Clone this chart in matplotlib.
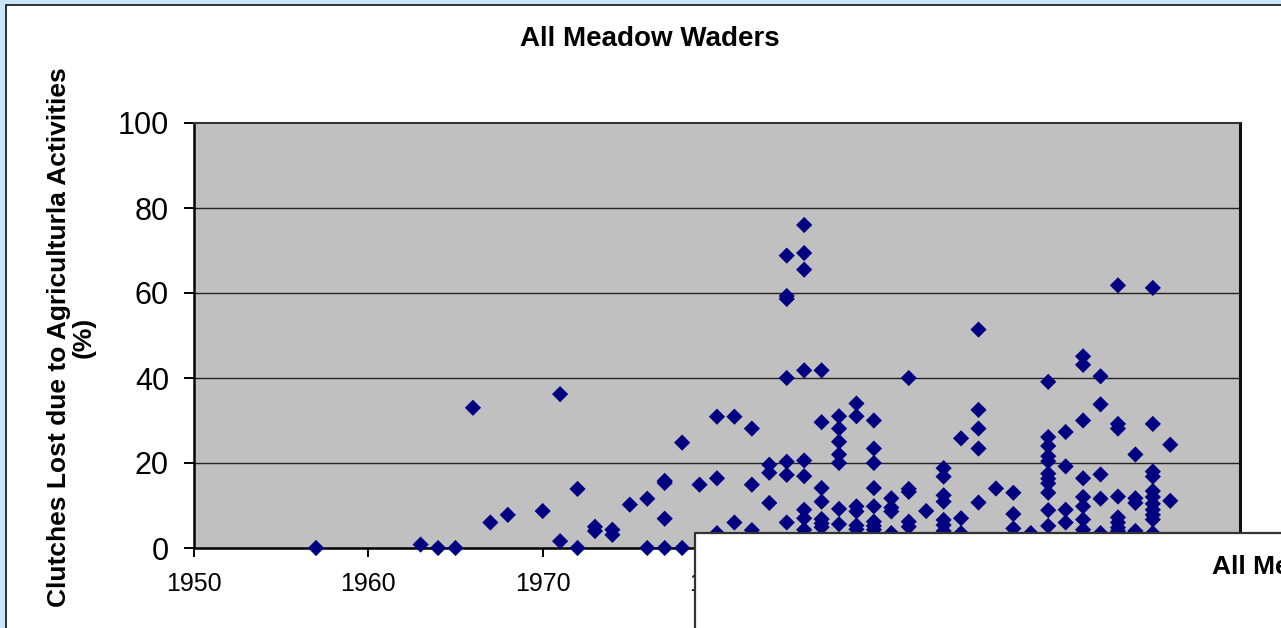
import matplotlib

matplotlib.use("Agg")
import matplotlib.pyplot as plt  # noqa: E402
from matplotlib.patches import Rectangle  # noqa: E402

# -------------------------------
# Data (% clutches lost per survey year)
# -------------------------------
survey_years = [
    1957, 1963, 1964, 1965, 1966, 1967, 1968, 1970, 1971, 1972,
    1973, 1974, 1975, 1976, 1977, 1978, 1979, 1980, 1981, 1982,
    1983, 1984, 1985, 1986, 1987, 1988, 1989, 1990, 1991, 1992,
    1993, 1994, 1995, 1996, 1997, 1998, 1999, 2000, 2001, 2002,
    2003, 2004, 2005, 2006,
]
lost_by_year = [
    [0], [0.8], [0], [0], [33.0], [6.0], [7.8], [8.7], [36.2, 1.6], [13.9, 0],
    [5.0, 4.0], [4.3, 3.1], [10.2], [11.6, 0], [15.8, 15.3, 6.9, 0], [24.8, 0],
    [14.9], [30.9, 16.4, 3.5], [30.9, 6.0], [28.1, 14.9, 4.2],
    [19.6, 17.7, 10.6],
    [68.8, 59.3, 58.6, 40.0, 20.3, 17.2, 6.0],
    [76.0, 69.4, 65.5, 41.8, 20.6, 16.9, 9.0, 7.0, 4.3],
    [41.8, 29.6, 14.1, 10.9, 6.8, 5.8, 4.9],
    [31.0, 28.1, 25.0, 22.0, 20.0, 9.2, 5.6],
    [34.0, 31.0, 9.8, 8.6, 5.3, 4.4],
    [30.0, 23.4, 20.0, 14.1, 9.8, 6.2, 5.2, 4.3],
    [11.7, 9.5, 8.6, 3.5],
    [40.0, 13.9, 13.2, 6.2, 5.0],
    [8.7],
    [18.8, 16.8, 12.4, 10.9, 6.6, 5.4, 4.0],
    [25.8, 7.0, 3.5],
    [51.4, 32.5, 28.1, 23.4, 10.7],
    [14.0],
    [13.0, 8.0, 4.6],
    [3.5],
    [39.1, 26.1, 24.0, 21.6, 20.4, 17.5, 16.3, 15.2, 13.0, 8.9, 5.2],
    [27.3, 19.2, 9.0, 6.0],
    [45.1, 43.1, 30.0, 16.4, 12.0, 9.8, 6.7, 4.3],
    [40.4, 33.8, 17.3, 11.6, 3.5],
    [61.8, 29.2, 28.1, 12.1, 7.2, 6.0, 4.8, 4.0],
    [22.0, 11.7, 10.6, 4.0],
    [61.2, 29.2, 18.0, 16.8, 13.4, 12.0, 10.4, 9.0, 7.8, 6.7, 3.5],
    [24.3, 11.1],
]

x_ticks = [1950, 1960, 1970, 1980, 1990, 2000, 2010]
y_ticks = [0, 20, 40, 60, 80, 100]
grid_levels = [20, 40, 60, 80]

TITLE = "All Meadow Waders"
Y_LABEL = "Clutches Lost due to Agriculturla Activities\n(%)"

W, H = 1281, 628


def fx(x):
    return x / W


def fy(y):
    return 1 - y / H


def main():
    plt.rcParams["font.family"] = ["Liberation Sans", "DejaVu Sans"]

    xs, ys = [], []
    for yr, vals in zip(survey_years, lost_by_year):
        for v in vals:
            xs.append(yr)
            ys.append(v)

    fig = plt.figure(figsize=(W / 100, H / 100), dpi=100)
    fig.patch.set_facecolor("#cde5f9")

    # white chart area with thin dark border (runs off right/bottom edges)
    fig.add_artist(Rectangle((fx(6), fy(700)), fx(1400), (700 - 5) / H, transform=fig.transFigure,
                             facecolor="white", edgecolor="#111111", lw=1.2, zorder=-1))

    ax = fig.add_axes([fx(194), fy(548), fx(1240 - 194), (548 - 123) / H])
    ax.set_facecolor("#c0c0c0")
    ax.set_xlim(1950, 2010)
    ax.set_ylim(0, 100)

    for g in grid_levels:
        ax.axhline(g, color="#222222", lw=1.0, zorder=1)

    ax.scatter(xs, ys, marker="D", s=68, color="#000080", edgecolors="none", zorder=3, clip_on=False)

    ax.set_xticks(x_ticks)
    ax.set_yticks(y_ticks)
    ax.tick_params(axis="y", direction="out", length=7, width=1.4, pad=11, labelsize=22)
    ax.tick_params(axis="x", direction="out", length=6.5, width=1.4, pad=11, labelsize=18)
    # labels from 1990 on sit fully under the overlapping sheet
    for lbl, t in zip(ax.get_xticklabels(), x_ticks):
        if t >= 1990:
            lbl.set_visible(False)

    for side in ["left", "bottom"]:
        ax.spines[side].set_linewidth(1.8)
        ax.spines[side].set_color("black")
    ax.spines["top"].set_linewidth(1.5)
    ax.spines["top"].set_color("#333333")
    ax.spines["right"].set_linewidth(2.2)
    ax.spines["right"].set_color("#111111")

    fig.text(fx(650), fy(39), TITLE, ha="center", va="center", fontsize=20, fontweight="bold")
    fig.text(fx(71), fy(337), Y_LABEL, ha="center", va="center", rotation=90,
             fontsize=19, fontweight="bold", multialignment="center", linespacing=1.05)

    # second chart sheet lying on top, bottom right
    fig.add_artist(Rectangle((fx(695), fy(700)), fx(700), (700 - 533) / H, transform=fig.transFigure,
                             facecolor="white", edgecolor="#333333", lw=1.6, zorder=10))
    fig.text(fx(1212), fy(567), TITLE, ha="left", va="center", fontsize=19,
             fontweight="bold", zorder=11)

    fig.savefig("out.png", dpi=100, facecolor=fig.get_facecolor())
    plt.close(fig)


if __name__ == "__main__":
    main()
